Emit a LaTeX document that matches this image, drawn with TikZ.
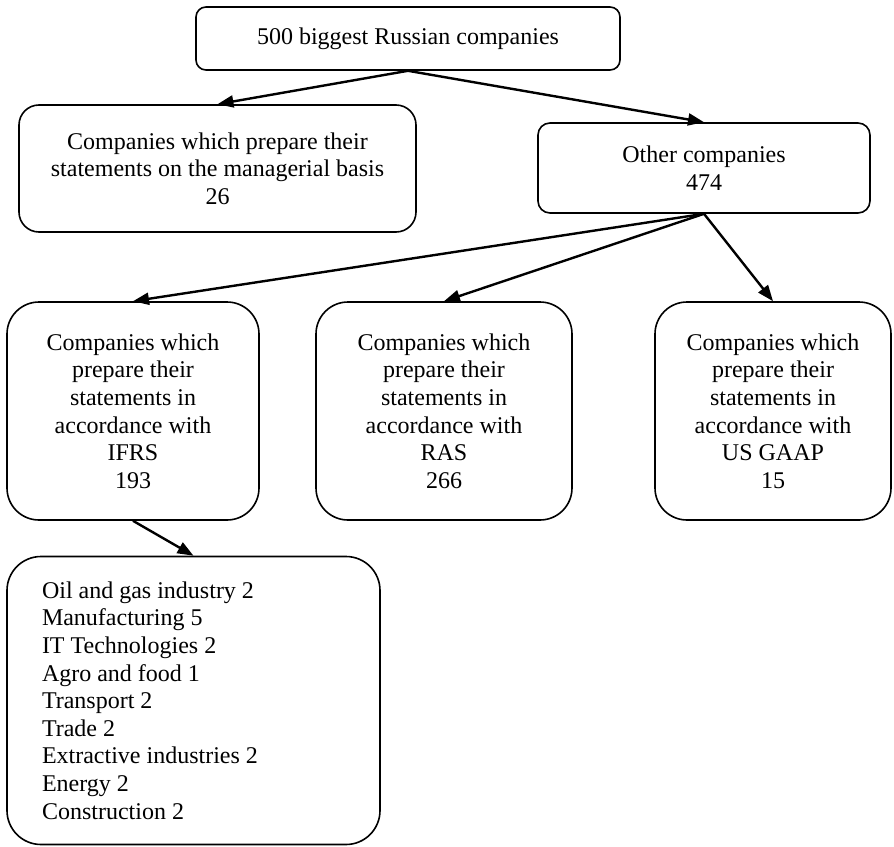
\documentclass[tikz,border=0pt]{standalone}
\usepackage{fontspec}
\setmainfont{Liberation Serif}
\usetikzlibrary{arrows.meta}
\begin{document}
\begin{tikzpicture}
		[x=0.5pt,y=-0.5pt,
		place/.style={draw=black,line width=0.8pt,inner sep=0pt,align=center,
font=\fontsize{12}{13.8}\selectfont},
		place1/.style={place,rounded corners=5pt},
		place2/.style={place,rounded corners=16pt,minimum height=109pt},
		listbox/.style={place,rounded corners=17pt,align=flush left,inner xsep=17.5pt,
text width=151.5pt,minimum height=144pt},
		edgestyle/.style={-{Triangle[length=8pt,width=6pt]},line width=1.2pt}]
		\useasboundingbox (0,0) rectangle (894,846);
		\node at (408, 38.5) (all) [place1,minimum width=212pt,minimum height=31.5pt]
			{500 biggest Russian companies};
		\node at (217.5, 168.5) (mgmt) [place,rounded corners=10pt,minimum width=198.5pt,minimum height=63.5pt]
			{Companies which prepare their\\statements on the managerial basis\\26};
		\node at (704, 168) (other) [place,rounded corners=6pt,minimum width=166pt,minimum height=45pt]
			{Other companies\\474};
		\node at (133, 411) (ifrs) [place2,minimum width=126pt]
			{Companies which\\prepare their\\statements in\\accordance with\\IFRS\\193};
		\node at (444, 411) (ras) [place2,minimum width=128pt]
			{Companies which\\prepare their\\statements in\\accordance with\\RAS\\266};
		\node at (773, 411) (gaap) [place2,minimum width=118pt]
			{Companies which\\prepare their\\statements in\\accordance with\\US GAAP\\15};
		\node at (193.5, 700.5) (sectors) [listbox]
			{Oil and gas industry 2\\Manufacturing 5\\IT Technologies 2\\Agro and food 1\\
Transport 2\\Trade 2\\Extractive industries 2\\Energy 2\\Construction 2};
		\draw (all.south) edge [edgestyle] (mgmt.north)
			edge [edgestyle] (other.north);
		\draw (other.south) edge [edgestyle] (ifrs.north)
			edge [edgestyle] (ras.north)
			edge [edgestyle] (gaap.north);
		\draw (ifrs.south) edge [edgestyle] (sectors.north);
	\end{tikzpicture}
\end{document}
